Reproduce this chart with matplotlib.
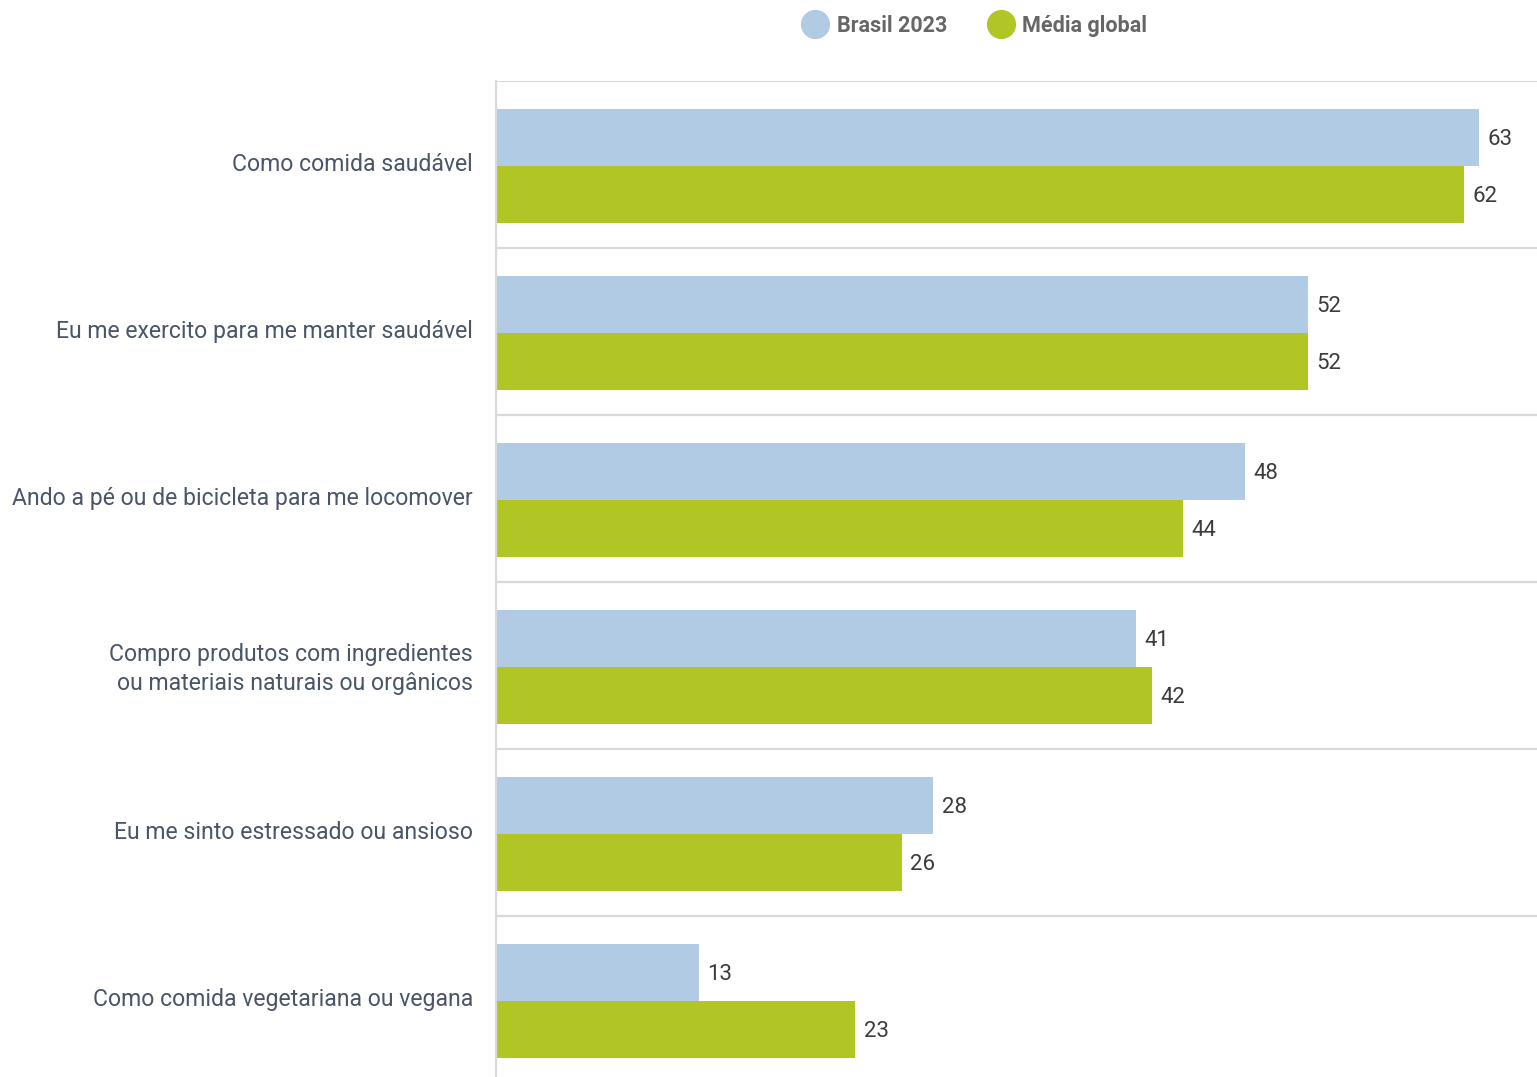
import matplotlib.pyplot as plt
import matplotlib.transforms as mtransforms
from matplotlib.lines import Line2D

categorias = [
    'Como comida saudável',
    'Eu me exercito para me manter saudável',
    'Ando a pé ou de bicicleta para me locomover',
    'Compro produtos com ingredientes\nou materiais naturais ou orgânicos',
    'Eu me sinto estressado ou ansioso',
    'Como comida vegetariana ou vegana',
]
brasil_2023 = [63, 52, 48, 41, 28, 13]
media_global = [62, 52, 44, 42, 26, 23]

cor_brasil = '#b0cbe3'
cor_global = '#b1c525'
cor_grade = '#d9d9d9'

plt.rcParams['font.family'] = ['Roboto', 'DejaVu Sans']

fig = plt.figure(figsize=(15.37, 10.77), dpi=100)
ax = fig.add_axes([496 / 1537, 0, 1 - 496 / 1537, 1 - 81 / 1077])

altura = 0.34
y = list(range(len(categorias)))
y_brasil = [i - altura / 2 + 0.01 for i in y]
y_global = [i + altura / 2 + 0.01 for i in y]

b1 = ax.barh(y_brasil, brasil_2023, height=altura, color=cor_brasil)
b2 = ax.barh(y_global, media_global, height=altura, color=cor_global)

for barras, valores in ((b1, brasil_2023), (b2, media_global)):
    for barra, v in zip(barras, valores):
        ax.text(v + 0.55, barra.get_y() + barra.get_height() / 2 + 0.01, str(v),
                va='center', ha='left', fontsize=16, color='#3c3c3c')

ax.set_xlim(0, 66.7)
ax.set_ylim(5.464, -0.5)

# linhas separando as categorias
for i in range(len(categorias)):
    ax.axhline(i - 0.5, color=cor_grade, lw=1.6, zorder=0)

ax.set_yticks(y)
ax.set_yticklabels(categorias, fontsize=16.6, color='#4a5568', linespacing=1.35)
ax.tick_params(axis='y', length=0, pad=16.5)
# sobe um pouco os rótulos das categorias
desloc = mtransforms.ScaledTranslation(0, 2.5 / 100, fig.dpi_scale_trans)
for lbl in ax.get_yticklabels():
    lbl.set_transform(lbl.get_transform() + desloc)
ax.set_xticks([])
for lado in ('top', 'right', 'bottom'):
    ax.spines[lado].set_visible(False)
ax.spines['left'].set_color(cor_grade)
ax.spines['left'].set_linewidth(1.6)

handles = [
    Line2D([], [], ls='none', marker='o', markersize=20, color=cor_brasil, label='Brasil 2023'),
    Line2D([], [], ls='none', marker='o', markersize=20, color=cor_global, label='Média global'),
]
fig.legend(handles=handles, loc='center', bbox_to_anchor=(0.6315, 1 - 26 / 1077),
           ncol=2, frameon=False, handletextpad=0.0, columnspacing=1.5,
           prop={'weight': 'bold', 'size': 15.5}, labelcolor='#666666')

fig.savefig('out.png', dpi=100)
